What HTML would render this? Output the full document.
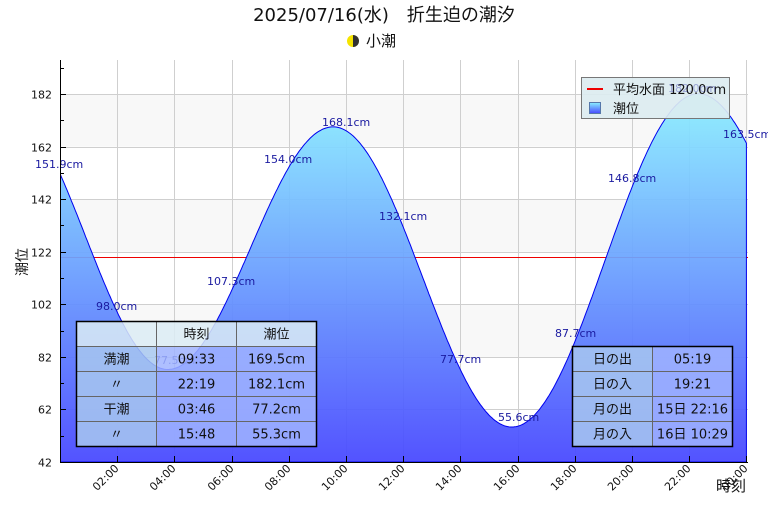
<!DOCTYPE html>
<html><head><meta charset="utf-8"><style>
body{margin:0;background:#fff;width:768px;height:512px;overflow:hidden}
text{font-family:"DejaVu Sans","Liberation Sans","Noto Sans CJK JP",sans-serif}
</style></head><body>
<svg id="s" width="768" height="512" xmlns="http://www.w3.org/2000/svg">
<defs>
<linearGradient id="g2" x1="0" y1="0" x2="0" y2="1"><stop offset="0" stop-color="#8af0ff"/><stop offset="1" stop-color="#4646ff"/></linearGradient>
<clipPath id="pc"><rect x="60" y="60" width="688" height="402"/></clipPath>
</defs>
<text x="384" y="21" font-size="18" text-anchor="middle" fill="#111">2025/07/16(水)　折生迫の潮汐</text>
<circle cx="353" cy="41" r="6" fill="#f5e400"/><path d="M353,35 A6,6 0 0 1 353,47 Z" fill="#333"/>
<text x="366" y="46" font-size="15" fill="#111">小潮</text>
<g id="bands"></g>
<g id="grid" stroke="#cfcfcf" stroke-width="1"></g>
<line x1="60" x2="748" y1="257.5" y2="257.5" stroke="#e00" stroke-width="1"/>
<path id="area" fill="url(#g2)" fill-opacity="0.93" stroke="#0000ee" stroke-width="1" clip-path="url(#pc)"/>
<g>
<rect x="581.5" y="77.5" width="148" height="41" fill="#dcecf0" fill-opacity="0.92" stroke="#777"/>
<line x1="587" x2="603" y1="89" y2="89" stroke="#e00" stroke-width="2"/>
<text x="613" y="94" font-size="13" fill="#111">平均水面 120.0cm</text>
<rect x="589.5" y="102.5" width="11" height="11" fill="url(#g2)" stroke="#5577aa"/>
<text x="613" y="113" font-size="13" fill="#111">潮位</text>
</g>
<g id="lbl" font-size="11" fill="#1a1aa0"></g>
<g id="ax" stroke="#000"></g>
<g id="tl" font-size="11" fill="#111"></g>
<text transform="translate(27,262) rotate(-90)" font-size="14" text-anchor="middle" fill="#111">潮位</text>
<text x="716" y="491" font-size="15" fill="#111">時刻</text>
<g id="tab" font-size="13" fill="#111"></g>
</svg>
<script>
var NS="http://www.w3.org/2000/svg";
function el(p,t,a,txt){var e=document.createElementNS(NS,t);for(var k in a)e.setAttribute(k,a[k]);if(txt!=null)e.textContent=txt;document.getElementById(p).appendChild(e);return e;}
function X(h){return 60+h*28.6;}
function Y(v){return 462-(v-42)*2.6286;}
[[162,182],[122,142],[82,102]].forEach(function(b){el("bands","rect",{x:60,y:Y(b[1]),width:688,height:Y(b[0])-Y(b[1]),fill:"#f8f8f8"});});
for(var v=62;v<=182;v+=20)el("grid","line",{x1:60,x2:748,y1:Math.round(Y(v))+.5,y2:Math.round(Y(v))+.5});
for(var h=2;h<=24;h+=2)el("grid","line",{x1:Math.round(X(h))+.5,x2:Math.round(X(h))+.5,y1:60,y2:462});
var ex=[[-2,179],[3+46/60,77.2],[9+33/60,169.5],[15+48/60,55.3],[22+19/60,182.1],[28.5,72.7]];
function f(t){for(var i=0;i<ex.length-1;i++){var a=ex[i],b=ex[i+1];if(t>=a[0]&&t<=b[0]){var fr=(t-a[0])/(b[0]-a[0]);return (a[1]+b[1])/2+(a[1]-b[1])/2*Math.cos(Math.PI*fr);}}return 0;}
var d="M"+X(0)+","+462;for(var t=0;t<=24.001;t+=0.05){d+=" L"+X(t).toFixed(1)+","+Y(f(t)).toFixed(1);}d+=" L"+X(24)+",462 Z";
document.getElementById("area").setAttribute("d",d);
[[35,168,"151.9cm"],[96,310,"98.0cm"],[154,364,"77.5cm"],[207,285,"107.3cm"],[264,163,"154.0cm"],[322,126,"168.1cm"],[379,220,"132.1cm"],[440,363,"77.7cm"],[498,421,"55.6cm"],[555,337,"87.7cm"],[608,182,"146.8cm"],[668,92,"182.0cm"],[723,138,"163.5cm"]].forEach(function(l){el("lbl","text",{x:l[0],y:l[1],"fill-opacity":l[2]=="182.0cm"?0.35:1},l[2]);});
el("ax","line",{x1:60.5,x2:60.5,y1:60,y2:462});
el("ax","line",{x1:60,x2:748,y1:462.5,y2:462.5});
for(var v=42;v<=192;v+=10){var y=Math.round(Y(v))+.5;el("ax","line",{x1:60,x2:(v-42)%20==0?66:64,y1:y,y2:y});if((v-42)%20==0)el("tl","text",{x:52,y:y+4,"text-anchor":"end"},String(v));}
for(var h=2;h<=24;h+=2){var x=Math.round(X(h))+.5;el("ax","line",{x1:x,x2:x,y1:462,y2:456});var hh=(h%24<10?"0":"")+(h%24)+":00";el("tl","text",{transform:"translate("+(x+2)+",469) rotate(-45)","text-anchor":"end"},hh);}
function table(x0,y0,cw,rows,hdr){
 for(var r=0;r<rows.length;r++)for(var c=0;c<rows[r].length;c++){
  var fill=(r==0&&hdr)?"#dcecf4":(c==0?"#a8c8f0":"#a0b4ff");
  el("tab","rect",{x:x0+c*cw,y:y0+r*25,width:cw,height:25,fill:fill,"fill-opacity":0.85,stroke:"#666"});
  el("tab","text",{x:x0+c*cw+cw/2,y:y0+r*25+17,"text-anchor":"middle"},rows[r][c]);}
 el("tab","rect",{x:x0,y:y0,width:cw*rows[0].length,height:25*rows.length,fill:"none",stroke:"#000","stroke-width":1.5});
}
table(76.5,321.5,80,[["","時刻","潮位"],["満潮","09:33","169.5cm"],["〃","22:19","182.1cm"],["干潮","03:46","77.2cm"],["〃","15:48","55.3cm"]],true);
table(572.5,346.5,80,[["日の出","05:19"],["日の入","19:21"],["月の出","15日 22:16"],["月の入","16日 10:29"]],false);
</script>
</body></html>
